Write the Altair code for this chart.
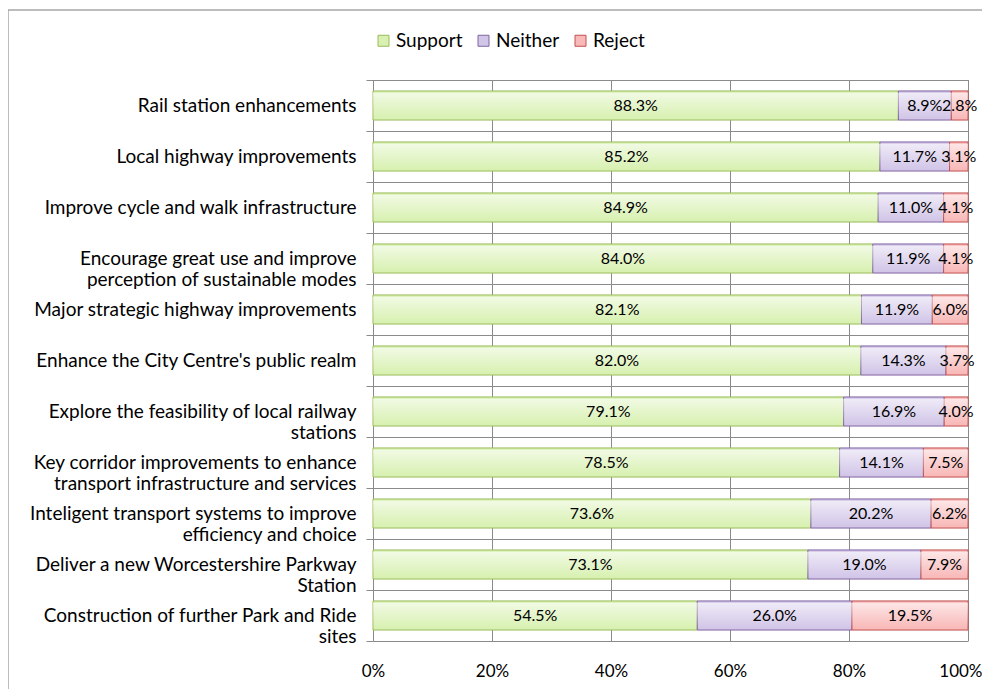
import altair as alt
import pandas as pd

categories = [
    "Rail station enhancements",
    "Local highway improvements",
    "Improve cycle and walk infrastructure",
    "Encourage great use and improve|perception of sustainable modes",
    "Major strategic highway improvements",
    "Enhance the City Centre's public realm",
    "Explore the feasibility of local railway|stations",
    "Key corridor improvements to enhance|transport infrastructure and services",
    "Inteligent transport systems to improve|efficiency and choice",
    "Deliver a new Worcestershire Parkway|Station",
    "Construction of further Park and Ride|sites",
]
support = [88.3, 85.2, 84.9, 84.0, 82.1, 82.0, 79.1, 78.5, 73.6, 73.1, 54.5]
neither = [8.9, 11.7, 11.0, 11.9, 11.9, 14.3, 16.9, 14.1, 20.2, 19.0, 26.0]
reject = [2.8, 3.1, 4.1, 4.1, 6.0, 3.7, 4.0, 7.5, 6.2, 7.9, 19.5]
series = ["Support", "Neither", "Reject"]
fills = ["#d8f1b2", "#d2c6e8", "#f9b9b9"]
strokes = ["#9bbb59", "#8064a2", "#c0504d"]
xticks = [0, 0.2, 0.4, 0.6, 0.8, 1.0]

rows = []
for i, c in enumerate(categories):
    for j, (s, vals) in enumerate(zip(series, [support, neither, reject])):
        rows.append({"category": c, "series": s, "order": j, "value": vals[i]})
df = pd.DataFrame(rows)
cat_df = pd.DataFrame({"category": categories, "xs": [0.0] * len(categories),
                       "xe": [1.0] * len(categories)})
tick_df = pd.DataFrame({"t": xticks})

W, H = 595, 561
FONT = "Lato"
GRID = "#8a8a8a"

base = alt.Chart(df).transform_stack(
    stack="value", groupby=["category"], as_=["x0", "x1"],
    offset="normalize", sort=[alt.SortField("order")]
).transform_calculate(
    mid="(datum.x0 + datum.x1) / 2",
    label="format(datum.value, '.1f') + '%'"
)

yaxis = alt.Axis(labelExpr="split(datum.label, '|')", tickBand="extent",
                 grid=False, domainColor=GRID,
                 tickColor=GRID, tickSize=7, labelPadding=10,
                 labelFont=FONT, labelFontSize=19, labelColor="#000",
                 labelLineHeight=21, labelLimit=400)
yscale = alt.Scale(paddingInner=0, paddingOuter=0)
yenc = alt.Y("category:N", sort=categories, title=None, scale=yscale, axis=yaxis)

xscale = alt.Scale(domain=[0, 1], nice=False)
xaxis = alt.Axis(format=".0%", values=xticks,
                 grid=False, domainColor=GRID,
                 ticks=False, labelPadding=22, labelFont=FONT,
                 labelFontSize=17, labelColor="#000", labelFlush=False,
                 labelAlign=alt.condition("datum.value == 1", alt.value("right"), alt.value("center")),
                 labelOffset=alt.condition("datum.value == 1", alt.value(14), alt.value(0)))

# horizontal grid: a rule along the top edge of every category band
hgrid = alt.Chart(cat_df).mark_rule(color=GRID, strokeWidth=1, yOffset=0.5).encode(
    y=alt.Y("category:N", sort=categories, title=None, scale=yscale, axis=yaxis, bandPosition=0),
    x=alt.X("xs:Q", scale=xscale, title=None, axis=xaxis),
    x2="xe:Q"
)
# vertical grid at the x tick values
vgrid = alt.Chart(tick_df).mark_rule(color=GRID, strokeWidth=1, xOffset=0.5).encode(
    x=alt.X("t:Q", scale=xscale, title=None, axis=xaxis),
    y=alt.value(0), y2=alt.value(H)
)

bars = base.mark_bar(strokeWidth=1, opacity=1, height=alt.RelativeBandSize(0.57)).encode(
    x=alt.X("x0:Q", scale=xscale, title=None, axis=xaxis),
    x2="x1:Q",
    y=yenc,
    fill=alt.Fill("series:N", sort=series,
                  scale=alt.Scale(domain=series, range=fills), title=None),
    stroke=alt.Stroke("series:N", sort=series,
                      scale=alt.Scale(domain=series, range=strokes), title=None),
)

shine = base.mark_bar(
    fill=alt.Gradient(gradient="linear", x1=0, x2=0, y1=0, y2=1,
                      stops=[alt.GradientStop(color="rgba(255,255,255,0.65)", offset=0),
                             alt.GradientStop(color="rgba(255,255,255,0)", offset=1)]),
    strokeWidth=0, height=alt.RelativeBandSize(0.5)
).encode(x=alt.X("x0:Q", scale=xscale, title=None, axis=xaxis), x2="x1:Q", y=yenc)

texts = base.mark_text(font=FONT, fontSize=16, color="#000", baseline="middle").encode(
    x=alt.X("mid:Q", scale=xscale, title=None, axis=xaxis), y=yenc, text="label:N"
)

border = alt.Chart(pd.DataFrame({"a": [0]})).mark_rect(
    fill="#ffffff", fillOpacity=0, stroke="#a6a6a6", strokeWidth=1.5
).encode(x=alt.value(-365), x2=alt.value(700), y=alt.value(-70), y2=alt.value(700))

chart = alt.layer(vgrid, hgrid, bars, shine, texts, border).properties(
    width=W, height=H,
    autosize=alt.AutoSizeParams(type="none"),
    padding={"left": 365, "top": 72, "right": 14, "bottom": 48},
).configure_view(stroke=None).configure_legend(
    orient="none", legendX=1, legendY=-49, direction="horizontal",
    symbolType="square", symbolSize=121, symbolStrokeWidth=1,
    labelFont=FONT, labelFontSize=19, labelColor="#000", labelOffset=3,
    columnPadding=11, padding=0, offset=0
)

chart.save("out.html", embed_options={"renderer": "svg", "actions": False})
